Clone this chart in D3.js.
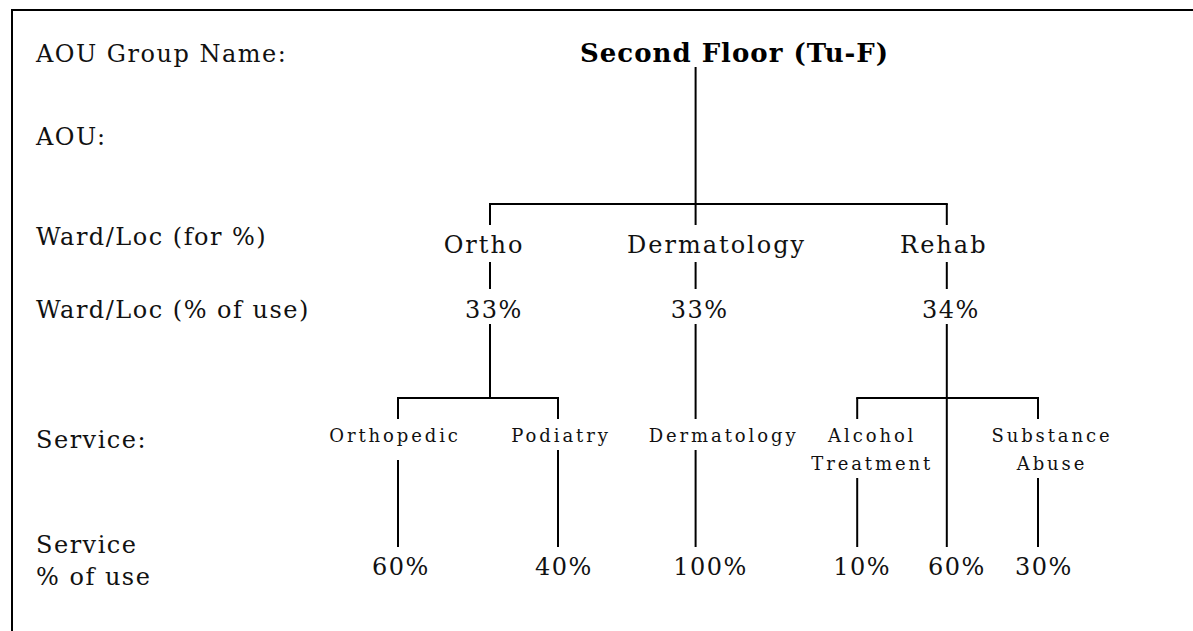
<!DOCTYPE html>
<html><head><meta charset="utf-8">
<script src="https://cdn.jsdelivr.net/npm/d3@7"></script>
<style>html,body{margin:0;padding:0;background:#fff;overflow:hidden}</style>
</head><body><svg id="c" width="1193" height="631"></svg>
<script>
// ---------- data ----------
const groupName = "Second Floor (Tu-F)";
const rowLabels = ["AOU Group Name:", "AOU:", "Ward/Loc (for %)", "Ward/Loc (% of use)", "Service:", "Service\n% of use"];
const wards = ["Ortho", "Dermatology", "Rehab"];
const wardPct = [33, 33, 34];
const services = ["Orthopedic", "Podiatry", "Dermatology", "Alcohol\nTreatment", "", "Substance\nAbuse"];
const serviceWard = ["Ortho", "Ortho", "Dermatology", "Rehab", "Rehab", "Rehab"];
const servicePct = [60, 40, 100, 10, 60, 30];

// ---------- layout ----------
const W = 1193, H = 631;
const leafSlots = [0, 1, 1.86, 2.87, 3.43, 4];
const wardSlots = [0.575, 1.86, 3.43];
const x = d3.scaleLinear().domain([0, 4]).range([398, 1038]);
const rowY = [62, 145, 245, 318, 448, 553];
const Y = {title: 62, titleBot: 67, bar1: 204, wardTop: 225, wardLbl: 253, wardLblBot: 262,
  wardPctTop: 289, wardPct: 318, wardPctBot: 324, bar2: 398, svcTop: 419, svcLbl: 442,
  svcBot1: 450, svcBot2: 478, svcPctTop: 547, svcPct: 575};
const serif = "'DejaVu Serif', serif";
const wardDx = {Ortho: -6, Dermatology: 21, Rehab: -3};
const svcDx = [-3, 3, 28, 15, 0, 14];
const svcBotDx = [10, 0, 0, 0, 0, 0];
const pctDx = [3, 6, 15, 5, 10, 6];

const svg = d3.select("#c");
const g = svg.append("g");
const line = (x1, y1, x2, y2) => g.append("line").attr("x1", x1).attr("y1", y1).attr("x2", x2).attr("y2", y2)
  .attr("stroke", "#000").attr("stroke-width", 2);

// frame (left & top edges visible)
g.append("rect").attr("x", 12).attr("y", 10).attr("width", W + 20).attr("height", H + 20)
  .attr("fill", "none").attr("stroke", "#000").attr("stroke-width", 2);

// row labels
rowLabels.forEach((t, i) => {
  const parts = t.split("\n");
  const tx = g.append("text").attr("x", 36).attr("y", rowY[i]).attr("font-family", serif)
    .attr("font-size", 24).attr("letter-spacing", 1.5).attr("fill", "#111");
  parts.forEach((p, j) => tx.append("tspan").attr("x", 36).attr("dy", j ? 32 : 0).text(p));
});

const wardX = w => x(wardSlots[wards.indexOf(w)]);
const rootX = wardX("Dermatology");

// title
g.append("text").attr("x", 580).attr("y", Y.title).attr("font-family", serif).attr("font-weight", "bold")
  .attr("font-size", 26).attr("letter-spacing", 1).attr("fill", "#000").text(groupName);
line(rootX, Y.titleBot, rootX, Y.bar1);
line(d3.min(wards, wardX) - 1, Y.bar1, d3.max(wards, wardX) + 1, Y.bar1);

// ward level
wards.forEach((w, i) => {
  const wx = wardX(w);
  line(wx, Y.bar1, wx, Y.wardTop);
  g.append("text").attr("x", wx + wardDx[w]).attr("y", Y.wardLbl).attr("text-anchor", "middle")
    .attr("font-family", serif).attr("font-size", 24).attr("letter-spacing", 2).attr("fill", "#111").text(w);
  line(wx, Y.wardLblBot, wx, Y.wardPctTop);
  g.append("text").attr("x", wx + 4).attr("y", Y.wardPct).attr("text-anchor", "middle")
    .attr("font-family", serif).attr("font-size", 24).attr("letter-spacing", 1.5).attr("fill", "#111").text(wardPct[i] + "%");
  const kids = services.map((s, j) => j).filter(j => serviceWard[j] === w);
  line(wx, Y.wardPctBot, wx, Y.bar2);
  if (kids.length > 1) {
    const xs = kids.map(j => x(leafSlots[j]));
    line(d3.min(xs) - 1, Y.bar2, d3.max(xs) + 1, Y.bar2);
  }
});

// service level
services.forEach((s, j) => {
  const sx = x(leafSlots[j]);
  const parts = s ? s.split("\n") : [];
  if (!parts.length) {
    line(sx, Y.bar2, sx, Y.svcPctTop);
  } else {
    line(sx, Y.bar2, sx, Y.svcTop);
    const tx = g.append("text").attr("y", Y.svcLbl).attr("text-anchor", "middle")
      .attr("font-family", serif).attr("font-size", 18).attr("letter-spacing", 2.9).attr("fill", "#111");
    parts.forEach((p, k) => tx.append("tspan").attr("x", sx + svcDx[j]).attr("dy", k ? 28 : 0).text(p));
    line(sx, (parts.length > 1 ? Y.svcBot2 : Y.svcBot1) + svcBotDx[j], sx, Y.svcPctTop);
  }
  g.append("text").attr("x", sx + pctDx[j]).attr("y", Y.svcPct).attr("text-anchor", "middle")
    .attr("font-family", serif).attr("font-size", 24).attr("letter-spacing", 1.5).attr("fill", "#111").text(servicePct[j] + "%");
});
</script></body></html>
